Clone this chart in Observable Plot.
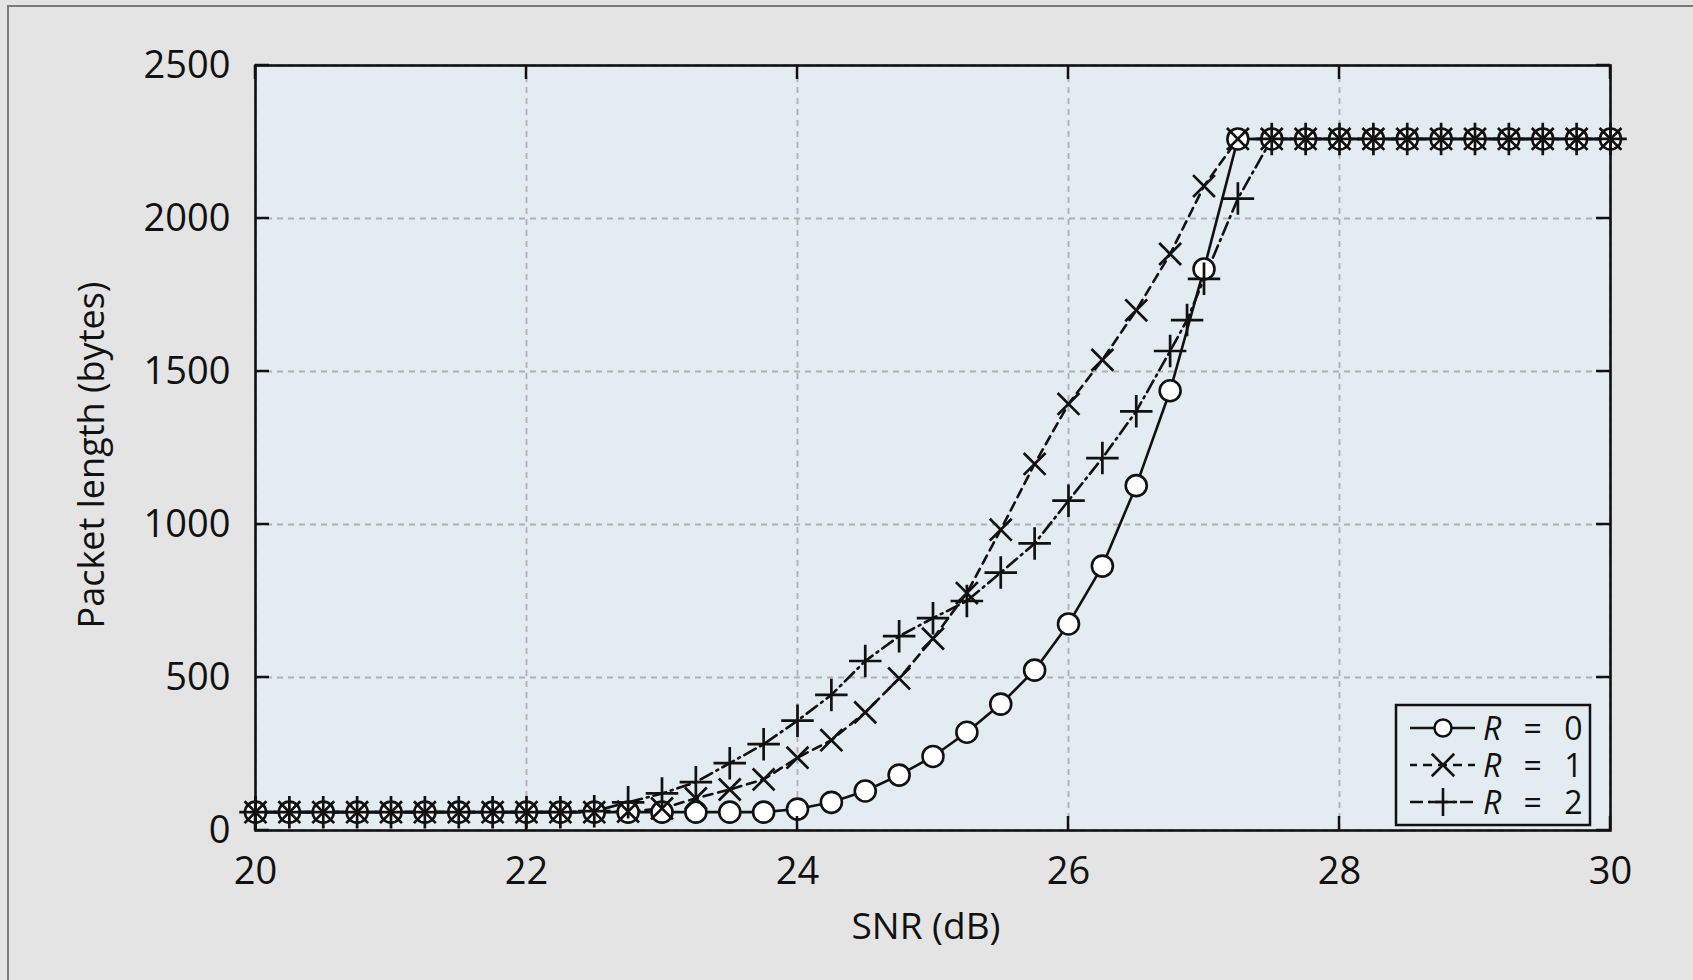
<!DOCTYPE html>
<html><head><meta charset="utf-8">
<script src="https://cdn.jsdelivr.net/npm/d3@7"></script>
<script src="https://cdn.jsdelivr.net/npm/@observablehq/plot@0.6"></script>
<style>
html,body{margin:0;padding:0;background:#e4e4e4;}
#chart{position:relative;width:1693px;height:980px;overflow:hidden;}
</style></head><body><div id="chart"></div>
<script>
// ---- data ----
const snr = [20, 20.25, 20.5, 20.75, 21, 21.25, 21.5, 21.75, 22, 22.25, 22.5, 22.75, 23, 23.25, 23.5, 23.75,
             24, 24.25, 24.5, 24.75, 25, 25.25, 25.5, 25.75, 26, 26.25, 26.5, 26.75, 27, 27.25, 27.5, 27.75,
             28, 28.25, 28.5, 28.75, 29, 29.25, 29.5, 29.75, 30];
const lenR0 = [60, 60, 60, 60, 60, 60, 60, 60, 60, 60, 60, 60, 60, 60, 60, 60,
               70, 92, 129, 181, 242, 321, 413, 524, 675, 864, 1127, 1437, 1835, 2260, 2260, 2260,
               2260, 2260, 2260, 2260, 2260, 2260, 2260, 2260, 2260];
const lenR1 = [60, 60, 60, 60, 60, 60, 60, 60, 60, 60, 60, 62, 72, 105, 134, 167,
               238, 295, 386, 497, 627, 776, 983, 1198, 1394, 1538, 1700, 1884, 2106, 2260, 2260, 2260,
               2260, 2260, 2260, 2260, 2260, 2260, 2260, 2260, 2260];
const snrR2 = [20, 20.25, 20.5, 20.75, 21, 21.25, 21.5, 21.75, 22, 22.25, 22.5, 22.75, 23, 23.25, 23.5, 23.75,
               24, 24.25, 24.5, 24.75, 25, 25.25, 25.5, 25.75, 26, 26.25, 26.5, 26.75, 26.875, 27, 27.25, 27.5,
               27.75, 28, 28.25, 28.5, 28.75, 29, 29.25, 29.5, 29.75, 30];
const lenR2 = [60, 60, 60, 60, 60, 60, 60, 60, 60, 60, 63, 92, 121, 158, 220, 282,
               359, 443, 554, 635, 694, 750, 843, 938, 1078, 1217, 1370, 1567, 1668, 1803, 2065, 2260,
               2260, 2260, 2260, 2260, 2260, 2260, 2260, 2260, 2260, 2260];
const xTicks = [20, 22, 24, 26, 28, 30];
const yTicks = [0, 500, 1000, 1500, 2000, 2500];
const seriesNames = ["R = 0", "R = 1", "R = 2"];

const rows0 = snr.map((s, i) => ({snr: s, len: lenR0[i]}));
const rows1 = snr.map((s, i) => ({snr: s, len: lenR1[i]}));
const rows2 = snrR2.map((s, i) => ({snr: s, len: lenR2[i]}));

const INK = "#111";
const PLOTBG = "#e3ecf0";
const FONT = "'Open Sans', 'Noto Sans', sans-serif";
const dash1 = "9,6";
const dash2 = "13,5,2,5";

const chart = Plot.plot({
  width: 1693, height: 980,
  marginLeft: 255, marginRight: 83, marginTop: 65, marginBottom: 150,
  style: {background: "#e4e4e4", fontFamily: FONT, fontSize: "38px", color: INK},
  x: {domain: [20, 30]},
  y: {domain: [0, 2500]},
  marks: [
    Plot.frame({fill: PLOTBG, stroke: null}),
    Plot.gridX(xTicks, {stroke: "#b0b0b0", strokeOpacity: 1, strokeWidth: 1.8, strokeDasharray: "6,5"}),
    Plot.gridY(yTicks, {stroke: "#b0b0b0", strokeOpacity: 1, strokeWidth: 1.8, strokeDasharray: "6,5"}),
    Plot.line(rows0, {x: "snr", y: "len", stroke: INK, strokeWidth: 2.6}),
    Plot.line(rows1, {x: "snr", y: "len", stroke: INK, strokeWidth: 2.6, strokeDasharray: dash1}),
    Plot.line(rows2, {x: "snr", y: "len", stroke: INK, strokeWidth: 2.6, strokeDasharray: dash2}),
    Plot.dot(rows0, {x: "snr", y: "len", symbol: "circle", r: 10.5, fill: "white", stroke: INK, strokeWidth: 2.6}),
    Plot.dot(rows1, {x: "snr", y: "len", symbol: "times", r: 10, stroke: INK, strokeWidth: 2.7}),
    Plot.dot(rows2, {x: "snr", y: "len", symbol: "plus", r: 10.5, stroke: INK, strokeWidth: 2.7}),
    Plot.frame({stroke: INK, strokeWidth: 2.6}),
    Plot.axisX(xTicks, {tickSize: 0, tickPadding: 27, label: null, tickFormat: "d", fontSize: 38, fill: INK}),
    Plot.axisY(yTicks, {tickSize: 0, tickPadding: 25, label: null, tickFormat: "d", fontSize: 38, fill: INK})
  ]
});
document.getElementById("chart").appendChild(chart);

// ---- decorations via the plot's own scales ----
const svg = d3.select(chart);
const xs = chart.scale("x"), ys = chart.scale("y");
const L = xs.apply(20), R = xs.apply(30), B = ys.apply(0), T = ys.apply(2500);
const TL = 14;
const g = svg.append("g").attr("stroke", INK).attr("stroke-width", 2.5);
xTicks.forEach(v => {
  const x = xs.apply(v);
  g.append("line").attr("x1", x).attr("x2", x).attr("y1", B).attr("y2", B - TL);
  g.append("line").attr("x1", x).attr("x2", x).attr("y1", T).attr("y2", T + TL);
});
yTicks.forEach(v => {
  const y = ys.apply(v);
  g.append("line").attr("y1", y).attr("y2", y).attr("x1", L).attr("x2", L + TL);
  g.append("line").attr("y1", y).attr("y2", y).attr("x1", R).attr("x2", R - TL);
});

// outer panel border (left & top)
svg.append("path").attr("d", "M8,985V6H1700").attr("fill", "none").attr("stroke", "#7a7a7a").attr("stroke-width", 2);

// axis titles
svg.append("text").attr("x", 926).attr("y", 939).attr("text-anchor", "middle")
  .attr("font-family", FONT).attr("font-size", 37).attr("fill", INK).text("SNR (dB)");
svg.append("text").attr("transform", "translate(104,455) rotate(-90)").attr("text-anchor", "middle")
  .attr("font-family", FONT).attr("font-size", 36).attr("fill", INK).text("Packet length (bytes)");

// legend
const lg = svg.append("g");
lg.append("rect").attr("x", 1396).attr("y", 705).attr("width", 194).attr("height", 120)
  .attr("fill", PLOTBG).attr("stroke", INK).attr("stroke-width", 2.5);
const rowsY = [728, 765, 802];
const dashes = [null, dash1, dash2];
const syms = [null, d3.symbolTimes, d3.symbolPlus];
const symSize = [0, 330, 260];
seriesNames.forEach((name, i) => {
  const y = rowsY[i];
  const ln = lg.append("line").attr("x1", 1410).attr("x2", 1475).attr("y1", y).attr("y2", y)
    .attr("stroke", INK).attr("stroke-width", 2.4);
  if (dashes[i]) ln.attr("stroke-dasharray", dashes[i]).attr("stroke-dashoffset", i === 1 ? 2 : 0);
  if (i === 0) {
    lg.append("circle").attr("cx", 1443).attr("cy", y).attr("r", 8.5).attr("fill", "white")
      .attr("stroke", INK).attr("stroke-width", 2.5);
  } else {
    lg.append("path").attr("transform", `translate(1443,${y})`)
      .attr("d", d3.symbol(syms[i], symSize[i])()).attr("fill", "none")
      .attr("stroke", INK).attr("stroke-width", 2.6);
  }
  const parts = name.split(" ");
  const t = lg.append("text").attr("x", 1483).attr("y", y + 11.5).attr("text-anchor", "start")
    .attr("font-family", FONT).attr("font-size", 32).attr("fill", INK)
    .attr("word-spacing", "14px").attr("xml:space", "preserve");
  t.append("tspan").attr("font-style", "italic").text(parts[0]);
  t.append("tspan").text(" " + parts[1] + " " + parts[2]);
});
</script></body></html>
